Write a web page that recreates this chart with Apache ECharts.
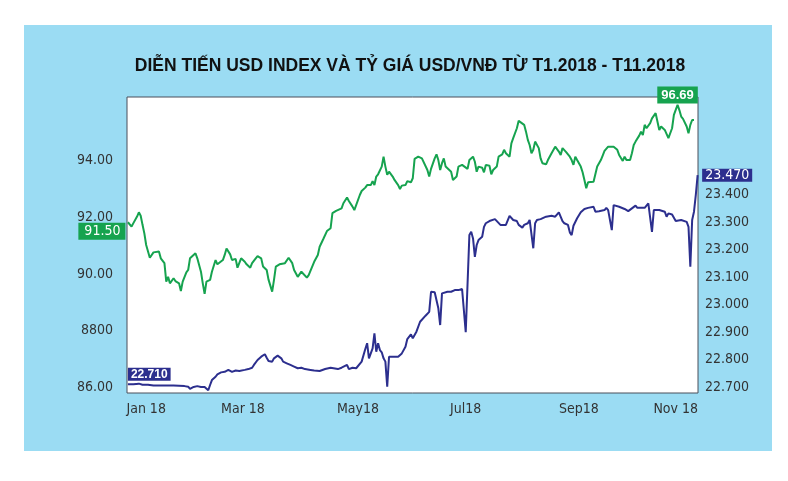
<!DOCTYPE html>
<html><head><meta charset="utf-8">
<script src="https://cdn.jsdelivr.net/npm/echarts@6/dist/echarts.min.js"></script>
<style>
html,body{margin:0;padding:0;background:#ffffff;}
#panel{position:absolute;left:24px;top:25px;width:748px;height:426px;background:#9BDCF3;}
#chart{position:absolute;left:0;top:0;width:788px;height:481px;}
</style></head><body>
<div id="panel"></div><div id="chart"></div>
<script>
const titleText = 'DIỄN TIẾN USD INDEX VÀ TỶ GIÁ USD/VNĐ TỪ T1.2018 - T11.2018';
// x positions are day-of-year 2018 (Jan 1 = 0)
const xTickDays = [6, 59, 122, 181, 243, 296];
const xTickLabels = ['Jan 18', 'Mar 18', 'May18', 'Jul18', 'Sep18', 'Nov 18'];
const leftTickValues = [86, 88, 90, 92, 94];
const leftTickLabels = ['86.00', '8800', '90.00', '92.00', '94.00'];
const rightTickValues = [22700, 22800, 22900, 23000, 23100, 23200, 23300, 23400];
const rightTickLabels = ['22.700', '22.800', '22.900', '23.000', '23.100', '23.200', '23.300', '23.400'];

const usdStartLabel = '91.50';
const usdPeakLabel = '96.69';
const vndStartLabel = '22.710';
const vndEndLabel = '23.470';

const usdDays = [-4,-2,-1,1,2,3,4,5,6,7,8,10,11,13,14,16,17,18,19,21,22,24,25,26,28,29,30,31,33,34,36,37,38,39,41,42,44,45,46,48,49,50,52,53,55,56,58,59,60,61,63,64,66,67,69,70,72,73,74,75,76,77,79,80,82,83,84,86,87,89,91,92,94,95,96,98,100,101,102,103,105,106,107,108,110,111,113,114,116,117,119,120,121,123,124,126,127,129,130,131,132,133,134,135,136,137,138,139,141,142,144,145,146,148,149,151,152,153,155,157,158,160,161,162,164,165,166,167,168,169,170,171,173,174,175,176,177,179,180,182,183,184,185,186,187,188,190,191,192,194,195,196,198,199,201,202,203,205,206,207,209,210,211,213,214,215,216,217,218,219,221,222,223,225,226,228,229,230,232,233,234,236,237,238,239,240,241,242,244,245,246,247,248,249,251,252,253,255,256,257,259,260,262,263,264,265,267,268,269,271,272,273,274,275,276,277,278,279,280,282,283,285,286,287,288,290,291,292,294,295,297,298,299,300,301,302,303,304,305,306];
const usdValues = [91.82,91.67,91.79,92.02,92.17,92.05,91.73,91.43,91.02,91.00,90.57,90.76,90.73,90.79,90.55,90.38,89.73,89.90,89.67,89.85,89.75,89.67,89.40,89.73,90.06,90.14,90.55,90.61,90.73,90.55,90.08,89.67,89.30,89.73,89.79,90.08,90.49,90.34,90.38,90.49,90.67,90.90,90.69,90.49,90.53,90.22,90.55,90.61,90.43,90.34,90.22,90.38,90.55,90.63,90.55,90.26,90.14,89.80,89.73,89.38,89.79,90.26,90.34,90.29,90.38,90.34,90.57,90.38,90.14,89.90,90.08,90.08,89.87,89.96,90.02,90.43,90.67,90.96,90.90,91.23,91.51,91.47,91.61,92.14,92.22,92.17,92.31,92.49,92.69,92.57,92.37,92.25,92.29,92.78,92.92,93.04,93.13,93.13,93.27,93.13,93.43,93.51,93.46,93.78,94.13,93.78,93.49,93.60,93.43,93.31,93.13,92.99,93.11,93.13,93.27,93.23,93.37,94.05,94.13,94.07,94.01,93.66,93.43,93.70,94.07,94.21,94.01,93.66,93.90,94.07,93.78,93.72,93.60,93.31,93.31,93.43,93.78,93.84,93.81,93.70,94.01,93.98,94.13,93.95,93.60,93.78,93.74,93.58,93.84,93.81,93.51,93.66,93.78,94.13,94.21,94.37,94.25,94.13,94.60,94.78,95.13,95.39,95.36,95.25,95.01,94.72,94.54,94.25,94.37,94.66,94.43,94.07,93.90,93.86,94.01,94.25,94.31,94.48,94.31,94.19,94.43,94.29,94.33,94.13,94.01,93.84,94.13,94.01,93.78,93.58,93.31,93.02,93.23,93.27,93.25,93.27,93.78,94.01,94.17,94.33,94.48,94.48,94.48,94.46,94.37,94.19,93.98,94.13,94.01,94.01,94.25,94.54,94.66,94.66,94.87,95.01,94.89,95.25,95.13,95.31,95.48,95.66,95.60,95.07,95.19,95.07,95.01,94.78,95.13,95.60,95.95,95.77,95.54,95.46,95.42,95.19,94.95,95.25,95.42,95.42];

const vndDays = [-4,-1,2,4,7,10,16,21,27,29,30,32,34,36,38,40,41,42,44,45,47,48,49,51,52,53,55,57,58,60,62,64,65,67,69,71,72,73,75,76,78,80,81,83,85,87,89,91,93,96,98,101,104,107,108,111,113,116,117,119,121,122,124,126,127,128,130,131,132,133,134,135,136,137,138,139,140,142,144,146,148,149,151,152,153,154,156,157,159,160,161,162,164,165,166,167,168,169,171,172,173,175,176,177,179,180,181,183,184,185,186,187,188,190,191,192,194,195,197,198,200,201,203,205,206,207,209,210,212,213,215,216,217,218,219,220,222,223,225,226,228,229,230,232,234,235,237,238,239,240,241,242,244,245,246,248,249,251,252,254,255,257,258,259,261,262,263,265,266,268,270,272,274,275,277,279,281,282,283,284,285,287,288,290,291,292,294,296,297,299,300,302,303,304,305,306,307,308];
const vndValues = [22710,22710,22712,22708,22708,22705,22705,22705,22703,22701,22693,22700,22703,22700,22700,22688,22707,22725,22737,22746,22753,22758,22755,22762,22765,22755,22760,22758,22762,22762,22765,22770,22780,22798,22810,22819,22806,22794,22792,22804,22814,22804,22792,22786,22780,22774,22768,22770,22765,22762,22760,22758,22765,22770,22765,22765,22770,22780,22765,22770,22768,22774,22792,22838,22859,22804,22840,22895,22828,22859,22834,22826,22804,22792,22701,22810,22810,22810,22810,22822,22846,22874,22891,22877,22871,22901,22937,22940,22959,22955,22973,23046,23044,23040,22986,22925,23040,23040,23046,23049,23046,23052,23049,23052,23056,23056,22899,23252,23264,23240,23173,23216,23234,23246,23282,23295,23303,23310,23310,23307,23289,23286,23289,23322,23319,23307,23303,23289,23279,23289,23295,23307,23303,23204,23295,23307,23310,23310,23319,23315,23322,23315,23319,23335,23303,23295,23289,23262,23252,23286,23289,23313,23335,23331,23347,23351,23349,23355,23337,23339,23337,23343,23351,23343,23270,23361,23367,23355,23351,23347,23339,23349,23359,23351,23351,23351,23367,23361,23264,23343,23343,23343,23343,23337,23319,23331,23327,23303,23300,23307,23313,23300,23282,23137,23307,23337,23398,23470];

const usdData = usdDays.map((d, i) => [d, usdValues[i]]);
const vndData = vndDays.map((d, i) => [d, vndValues[i]]);

const GREEN = '#16A34F';
const NAVY = '#2C2F8E';
const NARROW = "'Liberation Sans Narrow', 'DejaVu Sans Condensed', 'Liberation Sans', sans-serif";
const SANS = "'Liberation Sans', Arial, sans-serif";

const chart = echarts.init(document.getElementById('chart'), null, {renderer: 'canvas'});
chart.setOption({
  animation: false,
  backgroundColor: 'transparent',
  title: {
    text: titleText,
    left: 405, top: 52, textAlign: 'center',
    textStyle: {fontFamily: SANS, fontSize: 17.5, fontWeight: 'bold', color: '#111'}
  },
  grid: {
    left: 127, right: 90, top: 97, bottom: 88,
    show: true, backgroundColor: '#ffffff', borderColor: '#4a4f5a', borderWidth: 1,
    outerBoundsMode: 'none'
  },
  xAxis: {
    type: 'value', min: -4.5, max: 308.2,
    axisLine: {show: false}, axisTick: {show: false}, splitLine: {show: false},
    axisLabel: {
      customValues: xTickDays,
      formatter: v => xTickLabels[xTickDays.indexOf(v)] || '',
      fontFamily: NARROW, fontSize: 14, color: '#333', margin: 9
    }
  },
  yAxis: [{
    type: 'value', min: 85.81, max: 96.23, position: 'left',
    axisLine: {show: false}, axisTick: {show: false}, splitLine: {show: false},
    axisLabel: {
      customValues: leftTickValues,
      formatter: v => leftTickLabels[leftTickValues.indexOf(v)] || '',
      fontFamily: NARROW, fontSize: 14, color: '#333', margin: 14
    }
  }, {
    type: 'value', min: 22678, max: 23754, position: 'right',
    axisLine: {show: false}, axisTick: {show: false}, splitLine: {show: false},
    axisLabel: {
      customValues: rightTickValues,
      formatter: v => rightTickLabels[rightTickValues.indexOf(v)] || '',
      fontFamily: NARROW, fontSize: 14, color: '#333', margin: 7
    }
  }],
  series: [{
    name: 'USD Index', type: 'line', yAxisIndex: 0, data: usdData,
    showSymbol: false, lineStyle: {color: GREEN, width: 2}, itemStyle: {color: GREEN},
    z: 3,
    markPoint: {
      symbol: 'circle', symbolSize: 1, itemStyle: {color: 'rgba(0,0,0,0)'},
      data: [{
        coord: [usdDays[0], parseFloat(usdStartLabel)],
        label: {show: true, position: 'left', distance: 2, formatter: usdStartLabel,
          color: '#fff', backgroundColor: GREEN, fontFamily: NARROW, fontSize: 14,
          padding: [1, 5, 1, 6], lineHeight: 15}
      }, {
        type: 'max',
        label: {show: true, position: 'top', distance: 1, formatter: usdPeakLabel,
          color: '#fff', backgroundColor: GREEN, fontFamily: SANS, fontWeight: 'bold', fontSize: 13,
          padding: [1, 4, 1, 4], lineHeight: 15}
      }]
    }
  }, {
    name: 'USD/VND', type: 'line', yAxisIndex: 1, data: vndData,
    showSymbol: false, lineStyle: {color: NAVY, width: 2}, itemStyle: {color: NAVY},
    z: 3,
    markPoint: {
      symbol: 'circle', symbolSize: 1, itemStyle: {color: 'rgba(0,0,0,0)'},
      data: [{
        coord: [vndDays[0], parseFloat(vndStartLabel) * 1000],
        label: {show: true, position: 'top', align: 'left', distance: 3, formatter: vndStartLabel,
          color: '#fff', backgroundColor: NAVY, fontFamily: SANS, fontWeight: 'bold', fontSize: 12,
          padding: [0, 3, 0, 3], lineHeight: 13}
      }, {
        coord: [vndDays[vndDays.length - 1], parseFloat(vndEndLabel) * 1000],
        label: {show: true, position: 'right', distance: 4, formatter: vndEndLabel,
          color: '#fff', backgroundColor: NAVY, fontFamily: NARROW, fontSize: 14,
          padding: [0, 3, 0, 3], lineHeight: 13}
      }]
    }
  }]
});
</script>
</body></html>
